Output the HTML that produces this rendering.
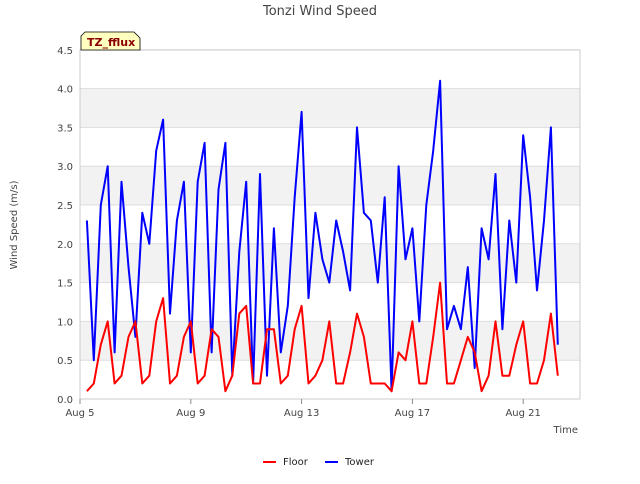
<!DOCTYPE html>
<html><head><meta charset="utf-8"><style>
body{margin:0;background:#fff;font-family:"DejaVu Sans","Liberation Sans",sans-serif;}
svg text{font-family:"DejaVu Sans","Liberation Sans",sans-serif;}
</style></head><body>
<svg id="chart" width="640" height="480" xmlns="http://www.w3.org/2000/svg">
<rect x="0" y="0" width="640" height="480" fill="#fff"/>
<g id="bands"></g>
<g id="grid"></g>
<rect x="80" y="50" width="500" height="349" fill="none" stroke="#ccc"/>
<g id="ticks"></g>
<g id="series"></g>
<text x="320" y="15" text-anchor="middle" font-size="13" fill="#444">Tonzi Wind Speed</text>
<text transform="translate(17,225) rotate(-90)" text-anchor="middle" font-size="10" fill="#444">Wind Speed (m/s)</text>
<text x="578" y="433" text-anchor="end" font-size="10" fill="#444">Time</text>
<g>
<path d="M81,50 L81,36 L85,32 L134,32 L140,38 L140,50 Z" fill="#ffffc0" stroke="#000" stroke-width="0.8"/>
<text x="87" y="46" font-size="11" font-weight="bold" fill="#8b0000">TZ_fflux</text>
</g>
<g>
<g><line x1="263" y1="462" x2="276" y2="462" stroke="#f00" stroke-width="2"/><text x="283" y="465" font-size="10" fill="#222">Floor</text></g>
<g><line x1="325" y1="462" x2="338" y2="462" stroke="#00f" stroke-width="2"/><text x="345" y="465" font-size="10" fill="#222">Tower</text></g>
</g>
</svg>
<script>
const days=[];for(let d=5.25;d<=22.26;d+=0.25)days.push(d);
const towerValues=[2.3,0.5,2.5,3.0,0.6,2.8,1.7,0.8,2.4,2.0,3.2,3.6,1.1,2.3,2.8,0.6,2.8,3.3,0.6,2.7,3.3,0.3,1.9,2.8,0.2,2.9,0.3,2.2,0.6,1.2,2.6,3.7,1.3,2.4,1.8,1.5,2.3,1.9,1.4,3.5,2.4,2.3,1.5,2.6,0.1,3.0,1.8,2.2,1.0,2.5,3.2,4.1,0.9,1.2,0.9,1.7,0.4,2.2,1.8,2.9,0.9,2.3,1.5,3.4,2.6,1.4,2.3,3.5,0.7];
const floorValues=[0.1,0.2,0.7,1.0,0.2,0.3,0.8,1.0,0.2,0.3,1.0,1.3,0.2,0.3,0.8,1.0,0.2,0.3,0.9,0.8,0.1,0.3,1.1,1.2,0.2,0.2,0.9,0.9,0.2,0.3,0.9,1.2,0.2,0.3,0.5,1.0,0.2,0.2,0.6,1.1,0.8,0.2,0.2,0.2,0.1,0.6,0.5,1.0,0.2,0.2,0.8,1.5,0.2,0.2,0.5,0.8,0.6,0.1,0.3,1.0,0.3,0.3,0.7,1.0,0.2,0.2,0.5,1.1,0.3];
const yTicks=[0,0.5,1,1.5,2,2.5,3,3.5,4,4.5];
const yTickLabels=["0.0","0.5","1.0","1.5","2.0","2.5","3.0","3.5","4.0","4.5"];
const xTicks=[5,9,13,17,21];
const xTickLabels=["Aug 5","Aug 9","Aug 13","Aug 17","Aug 21"];
const NS="http://www.w3.org/2000/svg";
const xs=d=>80+(d-5)*27.7;
const ys=v=>399-v*77.6;
function mk(t,a,p){const e=document.createElementNS(NS,t);for(const k in a)e.setAttribute(k,a[k]);p.appendChild(e);return e;}
const bands=document.getElementById('bands'),grid=document.getElementById('grid'),ticks=document.getElementById('ticks'),series=document.getElementById('series');
for(let i=0;i<yTicks.length-1;i++){if(i%2===1){const r=mk('rect',{x:80,y:ys(yTicks[i+1]),width:500,height:ys(yTicks[i])-ys(yTicks[i+1]),fill:'#f2f2f2'},bands);

}}
yTicks.forEach((v,i)=>{const l=mk('line',{x1:80,x2:580,y1:ys(v),y2:ys(v),stroke:'#ddd'},grid);


const t=mk('text',{x:73,y:ys(v)+4,'text-anchor':'end','font-size':10,fill:'#444'},ticks);t.textContent=yTickLabels[i];

});
xTicks.forEach((d,i)=>{mk('line',{x1:xs(d),x2:xs(d),y1:399,y2:404,stroke:'#888'},ticks);
const t=mk('text',{x:xs(d),y:416,'text-anchor':'middle','font-size':10,fill:'#444'},ticks);t.textContent=xTickLabels[i];

});
function line(vals,color,name){const pts=vals.map((v,i)=>xs(days[i]).toFixed(1)+','+ys(v).toFixed(1)).join(' ');
const p=mk('polyline',{points:pts,fill:'none',stroke:color,'stroke-width':2,'stroke-linejoin':'round'},series);

}
line(towerValues,'#00f','tower-line');
line(floorValues,'#f00','floor-line');
</script>
</body></html>
